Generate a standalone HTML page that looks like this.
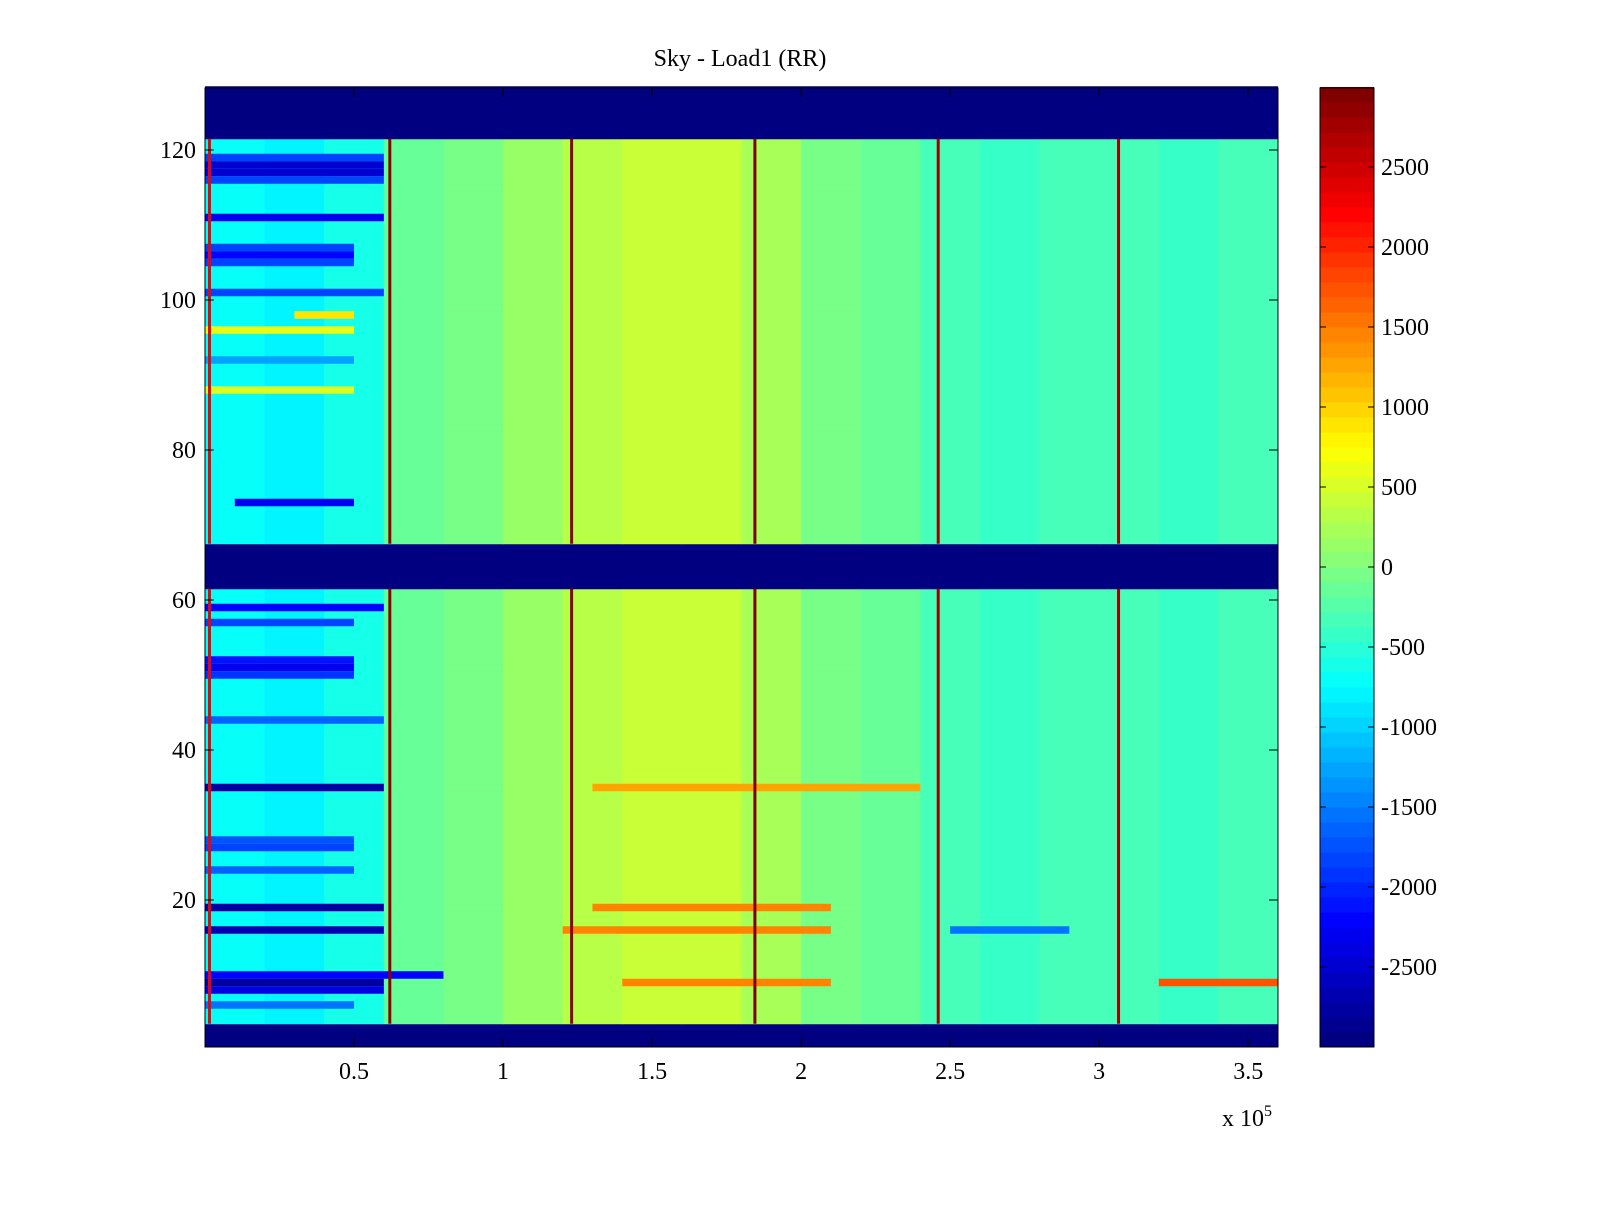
<!DOCTYPE html>
<html><head><meta charset="utf-8"><style>
body{margin:0;background:#fff}
svg text{font-family:"Liberation Serif",serif;font-size:24px;fill:#000}
</style></head><body>
<svg id="chart" width="1600" height="1200" viewBox="0 0 1600 1200" xmlns="http://www.w3.org/2000/svg">
<rect width="1600" height="1200" fill="#fff"/>
<text x="740" y="66" text-anchor="middle">Sky - Load1 (RR)</text>
<g id="cells"></g>
<g id="axes"></g>
<g id="cbar"></g>
</svg>
<script>
// column bins (units of 1e5), width 0.2
const colStarts = [0,0.2,0.4,0.6,0.8,1.0,1.2,1.4,1.6,1.8,2.0,2.2,2.4,2.6,2.8,3.0,3.2,3.4];
const colMeans = [-700,-800,-600,-100,0,100,350,450,400,200,0,-100,-350,-400,-350,-350,-400,-350];
// blank rows (masked)
const blankRows = [1,2,3,62,63,64,65,66,67,122,123,124,125,126,127,128];
// stripes: row, x0, x1, value
const stripeRows = [119,118,117,116,111,107,106,105,101,98,96,92,88,73,59,57,52,51,50,44,35,35,28,27,24,19,19,16,16,16,10,9,9,8,9,6];
const stripeX0 =   [0,0,0,0,0,0,0,0,0,0.3,0,0,0,0.1,0,0,0,0,0,0,0,1.3,0,0,0,0,1.3,0,1.2,2.5,0,0,1.4,0,3.2,0];
const stripeX1 =   [0.6,0.6,0.6,0.6,0.6,0.5,0.5,0.5,0.6,0.5,0.5,0.5,0.5,0.5,0.6,0.5,0.5,0.5,0.5,0.6,0.6,2.4,0.5,0.5,0.5,0.6,2.1,0.6,2.1,2.9,0.8,0.6,2.1,0.6,3.6,0.5];
const stripeVals = [-1800,-2500,-2500,-1800,-2300,-1800,-2200,-1800,-1800,900,600,-1300,500,-2300,-2200,-1800,-2100,-2300,-1900,-1600,-2800,1300,-1700,-1800,-1600,-2800,1500,-2700,1500,-1500,-2200,-2800,1500,-2400,1700,-1500];
// vertical hot lines (1e5)
const lineX = [0.015,0.62,1.23,1.845,2.46,3.065];
const lineVal = [2300,2900,2900,2950,2800,2800];
const xTicks = [0.5,1,1.5,2,2.5,3,3.5];
const xTickLabels = ["0.5","1","1.5","2","2.5","3","3.5"];
const yTicks = [20,40,60,80,100,120];
const cTicks = [-2500,-2000,-1500,-1000,-500,0,500,1000,1500,2000,2500];

const L=205,R=1278,T=88,B=1047;
const xs = v => L + v/3.6*(R-L);
const ys = v => 1050 - v*7.5;
const CB0=1320,CB1=1374;
const cy = v => 567 - v*0.16;
function jet(v){
  let t=(v+3000)/6000; t=Math.max(0,Math.min(1,t)); t=Math.floor(t*63.999)/63;
  const f=x=>Math.max(0,Math.min(1,x));
  const r=f(Math.min(4*t-1.5,-4*t+4.5)), g=f(Math.min(4*t-0.5,-4*t+3.5)), b=f(Math.min(4*t+0.5,-4*t+2.5));
  return `rgb(${Math.round(r*255)},${Math.round(g*255)},${Math.round(b*255)})`;
}
const NS="http://www.w3.org/2000/svg";
function mk(tag,attrs,parent){const e=document.createElementNS(NS,tag);for(const k in attrs)e.setAttribute(k,attrs[k]);parent.appendChild(e);return e;}
const cells=document.getElementById('cells');
for(let row=1;row<=128;row++){
  const y0=ys(row+0.5), y1=ys(row-0.5);
  if(blankRows.includes(row)){
    const r=mk('rect',{x:L,y:y0,width:R-L,height:y1-y0+0.5,fill:jet(-3000)},cells);
    
    
    continue;
  }
  for(let c=0;c<colStarts.length;c++){
    const r=mk('rect',{x:xs(colStarts[c]),y:y0,width:xs(0.2)-xs(0)+0.5,height:y1-y0+0.5,fill:jet(colMeans[c])},cells);
    
    
  }
}
for(let i=0;i<stripeRows.length;i++){
  const row=stripeRows[i];
  const r=mk('rect',{x:xs(stripeX0[i]),y:ys(row+0.5),width:xs(stripeX1[i])-xs(stripeX0[i]),height:7.5,fill:jet(stripeVals[i])},cells);
  
  
}
for(let i=0;i<lineX.length;i++){
  for(const [a,b] of [[3.5,61.5],[67.5,121.5]]){
    const r=mk('rect',{x:xs(lineX[i])-1.5,y:ys(b),width:3,height:ys(a)-ys(b),fill:jet(lineVal[i])},cells);
    
    
  }
}
const ax=document.getElementById('axes');
mk('rect',{x:L,y:T,width:R-L,height:B-T,fill:'none',stroke:'#000','stroke-width':1},ax);
xTicks.forEach((v,i)=>{
  const x=xs(v);
  mk('line',{x1:x,y1:B,x2:x,y2:B-9,stroke:'#000'},ax);
  mk('line',{x1:x,y1:T,x2:x,y2:T+9,stroke:'#000'},ax);
  const t=mk('text',{x:x,y:1079,'text-anchor':'middle'},ax);t.textContent=xTickLabels[i];
  
  
});
yTicks.forEach(v=>{
  const y=ys(v);
  mk('line',{x1:L,y1:y,x2:L+9,y2:y,stroke:'#000'},ax);
  mk('line',{x1:R,y1:y,x2:R-9,y2:y,stroke:'#000'},ax);
  const t=mk('text',{x:196,y:y+8,'text-anchor':'end'},ax);t.textContent=v;
  
  
});
const ex=mk('text',{x:1222,y:1126},ax);ex.innerHTML='x 10<tspan dy="-10" font-size="16">5</tspan>';


const cb=document.getElementById('cbar');
for(let k=0;k<64;k++){
  const v0=-3000+k*6000/64, v1=v0+6000/64;
  mk('rect',{x:CB0,y:cy(v1),width:CB1-CB0,height:cy(v0)-cy(v1)+0.5,fill:jet(v0+1)},cb);
}
mk('rect',{x:CB0,y:T,width:CB1-CB0,height:B-T,fill:'none',stroke:'#000'},cb);
cTicks.forEach(v=>{
  const y=cy(v);
  mk('line',{x1:CB0,y1:y,x2:CB0+6,y2:y,stroke:'#000'},cb);
  mk('line',{x1:CB1,y1:y,x2:CB1-6,y2:y,stroke:'#000'},cb);
  const t=mk('text',{x:1381,y:y+8},cb);t.textContent=v;
  
  
});
</script>
</body></html>
